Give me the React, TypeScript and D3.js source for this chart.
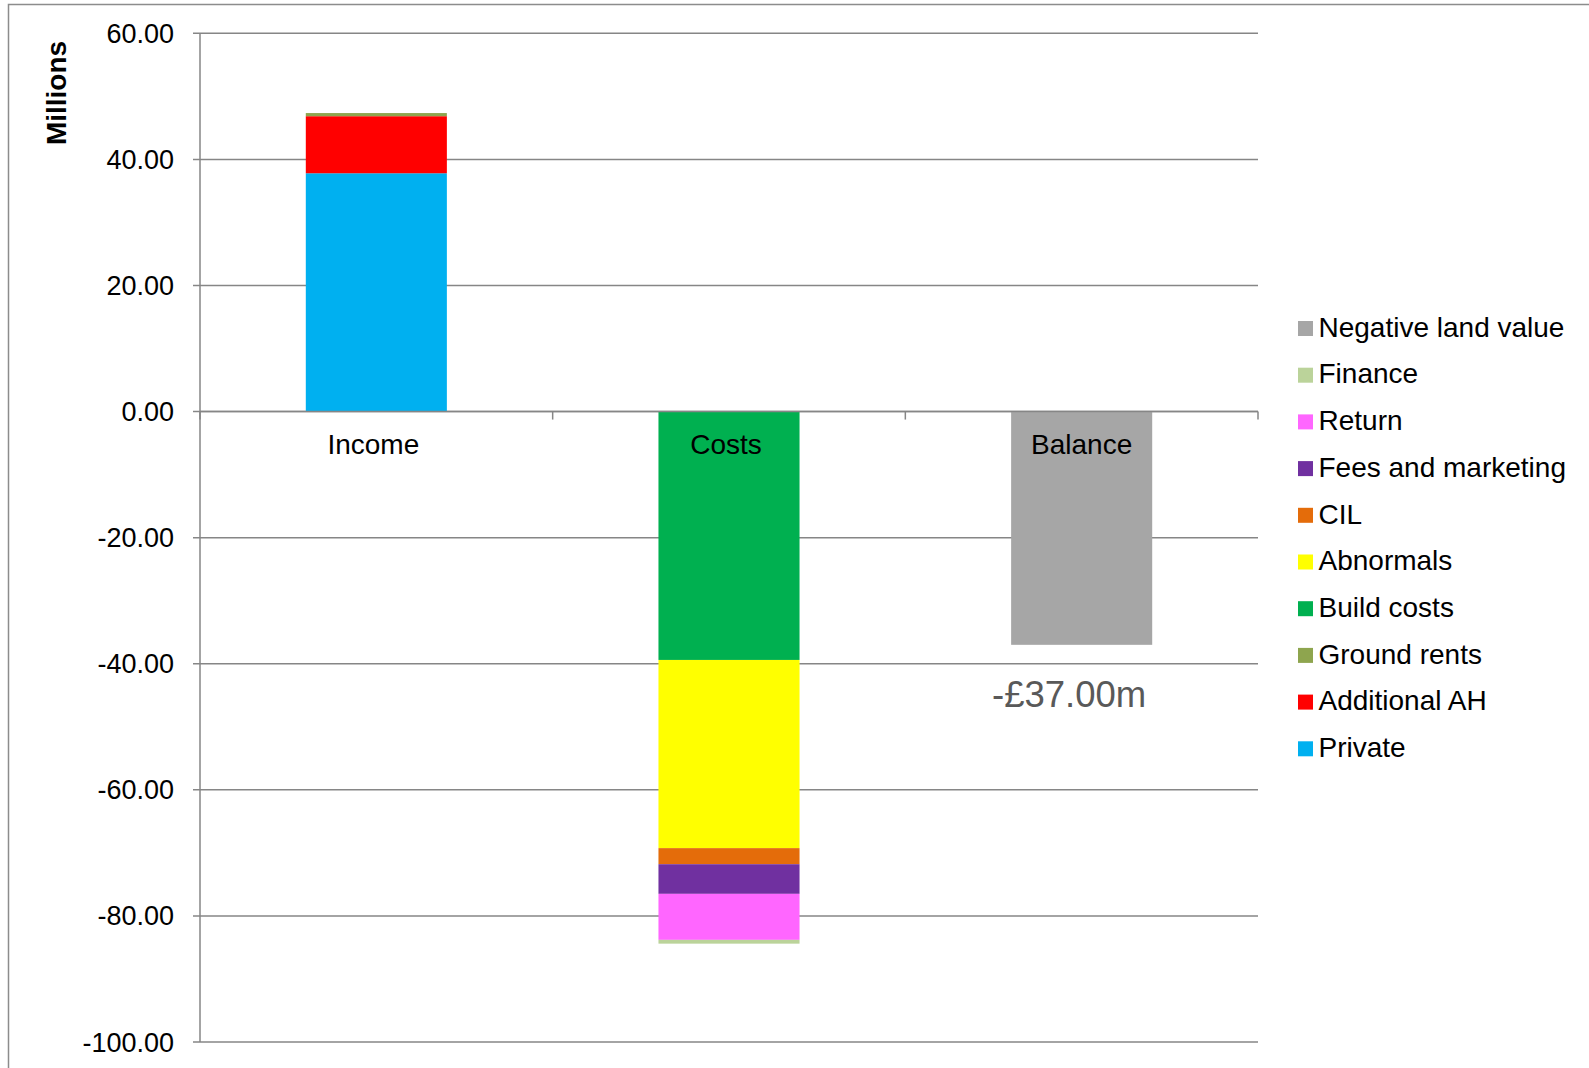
import React from "react";
import * as d3 from "d3";

const categories = ["Income", "Costs", "Balance"];
const seriesNames = [
  "Private",
  "Additional AH",
  "Ground rents",
  "Build costs",
  "Abnormals",
  "CIL",
  "Fees and marketing",
  "Return",
  "Finance",
  "Negative land value",
];
const seriesColors = [
  "#00B0F0",
  "#FF0000",
  "#8EA54E",
  "#00B050",
  "#FFFF00",
  "#E46C0A",
  "#7030A0",
  "#FF66FF",
  "#BBD39A",
  "#A6A6A6",
];
// values per series: [Income, Costs, Balance]
const seriesValues = [
  [37.8, 0, 0],
  [9.05, 0, 0],
  [0.5, 0, 0],
  [0, -39.4, 0],
  [0, -29.85, 0],
  [0, -2.55, 0],
  [0, -4.7, 0],
  [0, -7.3, 0],
  [0, -0.6, 0],
  [0, 0, -37.0],
];
const yTicks = [60, 40, 20, 0, -20, -40, -60, -80, -100];
const balanceLabel = "-£37.00m";

const FONT = "'Liberation Sans', Arial, Helvetica, sans-serif";

export default function App() {
  const W = 1589;
  const H = 1068;
  const x0 = 200;
  const x1 = 1258;
  const y = d3.scaleLinear().domain([-100, 60]).range([1042, 33.3]);
  const step = (x1 - x0) / categories.length;
  const barW = step * 0.4;
  const cx = (i: number) => x0 + (i + 0.5) * step;
  const fmt = (v: number) => d3.format(".2f")(v).replace("\u2212", "-");

  const rects: { x: number; y: number; w: number; h: number; fill: string; key: string }[] = [];
  categories.forEach((c, ci) => {
    let pos = 0;
    let neg = 0;
    seriesValues.forEach((vals, si) => {
      const v = vals[ci];
      if (v === 0) return;
      let a: number, b: number;
      if (v > 0) {
        a = pos;
        b = pos + v;
        pos = b;
      } else {
        a = neg;
        b = neg + v;
        neg = b;
      }
      const ya = y(a);
      const yb = y(b);
      rects.push({
        x: cx(ci) - barW / 2,
        y: Math.min(ya, yb),
        w: barW,
        h: Math.abs(yb - ya),
        fill: seriesColors[si],
        key: `${ci}-${si}`,
      });
    });
  });

  const legendOrder = seriesNames.map((_, i) => i).reverse();
  const gridColor = "#868686";

  return (
    <svg
      width={W}
      height={H}
      style={{ position: "absolute", left: 0, top: 0, background: "#fff" }}
      fontFamily={FONT}
    >
      <rect x={0} y={0} width={W} height={H} fill="#fff" />
      <rect x={8.5} y={4.5} width={W + 20} height={H + 20} fill="none" stroke="#8c8c8c" strokeWidth={1.5} />

      {yTicks.map((t) => (
        <line key={`g${t}`} x1={x0 - 7} x2={x1} y1={y(t)} y2={y(t)} stroke={gridColor} strokeWidth={1.5} />
      ))}
      <line x1={x0} x2={x0} y1={y(60)} y2={y(-100)} stroke={gridColor} strokeWidth={1.5} />

      {rects.map((r) => (
        <rect key={r.key} x={r.x} y={r.y} width={r.w} height={r.h} fill={r.fill} />
      ))}

      <line x1={x0} x2={x1} y1={y(0)} y2={y(0)} stroke={gridColor} strokeWidth={1.5} />
      {d3.range(categories.length + 1).map((i) => (
        <line
          key={`ct${i}`}
          x1={x0 + i * step}
          x2={x0 + i * step}
          y1={y(0)}
          y2={y(0) + 8}
          stroke={gridColor}
          strokeWidth={1.5}
        />
      ))}

      {yTicks.map((t) => (
        <text key={`tl${t}`} x={174} y={y(t) + 9.5} fontSize={27} textAnchor="end" fill="#000">
          {fmt(t)}
        </text>
      ))}

      <text
        transform={`translate(${66},${93}) rotate(-90)`}
        fontSize={28}
        fontWeight="bold"
        textAnchor="middle"
        fill="#000"
      >
        Millions
      </text>

      {categories.map((c, i) => (
        <text key={`cl${c}`} x={cx(i) - (i < 2 ? 3 : 0)} y={454} fontSize={28} textAnchor="middle" fill="#000">
          {c}
        </text>
      ))}

      <text x={cx(2) - 12.5} y={706.5} fontSize={36.5} textAnchor="middle" fill="#595959">
        {balanceLabel}
      </text>

      {legendOrder.map((si, k) => {
        const by = 336.7 + k * 46.7;
        return (
          <g key={`lg${si}`}>
            <rect x={1298} y={by - 15.7} width={15} height={15} fill={seriesColors[si]} />
            <text x={1318.5} y={by} fontSize={28} fill="#000">
              {seriesNames[si]}
            </text>
          </g>
        );
      })}
    </svg>
  );
}
